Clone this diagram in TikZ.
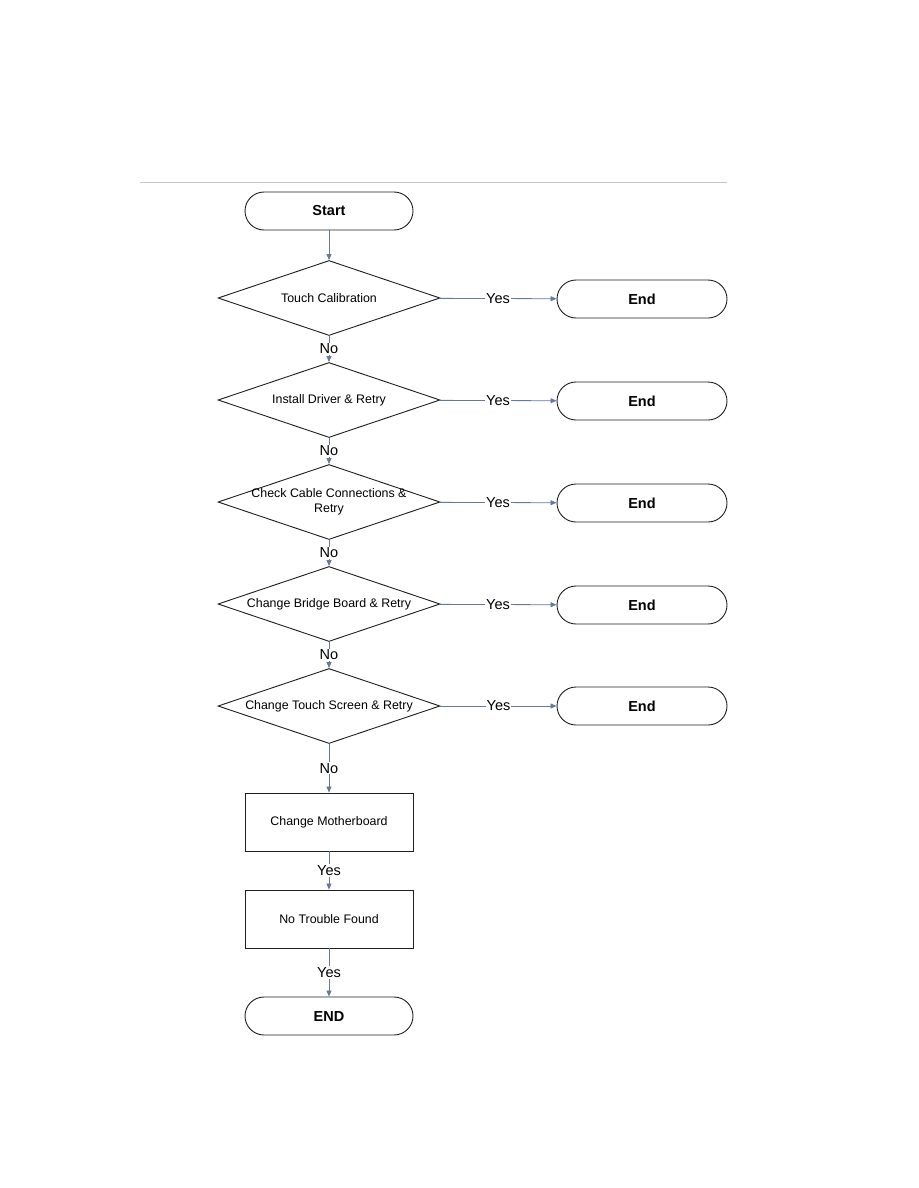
\documentclass[tikz,border=0pt]{standalone}
\usepackage{fontspec}
\setmainfont{Liberation Sans}
\usepackage{xcolor}
\usepackage{tikz}
\usetikzlibrary{positioning, arrows.meta, shapes.geometric}

\definecolor{linkblue}{RGB}{100,122,156}
\definecolor{shapeedge}{RGB}{30,30,30}

\begin{document}
\begin{tikzpicture}[x=1pt, y=-1pt,
        terminal/.style={draw=shapeedge, line width=0.9pt, rounded corners=19pt, rectangle, minimum width=168pt, minimum height=38pt, font=\fontsize{14.5}{17}\selectfont\bfseries},
        decision/.style={draw=shapeedge, line width=0.9pt, diamond, minimum width=222pt, minimum height=75pt, inner sep=0pt},
        dtext/.style={align=center, font=\fontsize{12.4}{14.5}\selectfont},
        procstep/.style={draw=shapeedge, line width=0.9pt, rectangle, minimum width=168pt, minimum height=58pt, font=\fontsize{12.4}{14}\selectfont},
        arrow/.style={-{Triangle[length=6pt, width=5pt]}, draw=linkblue, line width=0.8pt},
        answer/.style={fill=white, inner sep=1pt, font=\fontsize{14.5}{16}\selectfont}
    ]
    \useasboundingbox (0,0) rectangle (918,1188);

    % --- Header rule ---
    \draw[black!22, line width=0.8pt] (140,182) -- (727,182);

    % --- Start ---
    \node[terminal] (start) at (329, 211) {Start};

    % --- Checks ---
    \node[decision, label={[dtext]center:Touch Calibration}] (calib) at (329, 298) {};
    \node[decision, label={[dtext]center:Install Driver \& Retry}] (driver) at (329, 400) {};
    \node[decision, label={[dtext]center:Check Cable Connections \&\\Retry}] (cable) at (329, 502) {};
    \node[decision, label={[dtext]center:Change Bridge Board \& Retry}] (bridge) at (329, 604) {};
    \node[decision, label={[dtext]center:Change Touch Screen \& Retry}] (screen) at (329, 706) {};

    % --- Ends on the right ---
    \node[terminal, minimum width=170pt] (end1) at (642, 299) {End};
    \node[terminal, minimum width=170pt] (end2) at (642, 401) {End};
    \node[terminal, minimum width=170pt] (end3) at (642, 503) {End};
    \node[terminal, minimum width=170pt] (end4) at (642, 605) {End};
    \node[terminal, minimum width=170pt] (end5) at (642, 706) {End};

    % --- Last steps ---
    \node[procstep] (mboard) at (329, 822) {Change Motherboard};
    \node[procstep] (ntf) at (329, 919) {No Trouble Found};
    \node[terminal] (final) at (329, 1016) {END};

    % --- Arrows down ---
    \draw[arrow] (start) -- (calib);
    \draw[arrow] (calib) -- node[answer]{No} (driver);
    \draw[arrow] (driver) -- node[answer]{No} (cable);
    \draw[arrow] (cable) -- node[answer]{No} (bridge);
    \draw[arrow] (bridge) -- node[answer]{No} (screen);
    \draw[arrow] (screen) -- node[answer]{No} (mboard);
    \draw[arrow] (mboard) -- node[answer]{Yes} (ntf);
    \draw[arrow] (ntf) -- node[answer]{Yes} (final);

    % --- Arrows right ---
    \draw[arrow] (calib) -- node[answer]{Yes} (end1);
    \draw[arrow] (driver) -- node[answer]{Yes} (end2);
    \draw[arrow] (cable) -- node[answer]{Yes} (end3);
    \draw[arrow] (bridge) -- node[answer]{Yes} (end4);
    \draw[arrow] (screen) -- node[answer]{Yes} (end5);

\end{tikzpicture}
\end{document}
